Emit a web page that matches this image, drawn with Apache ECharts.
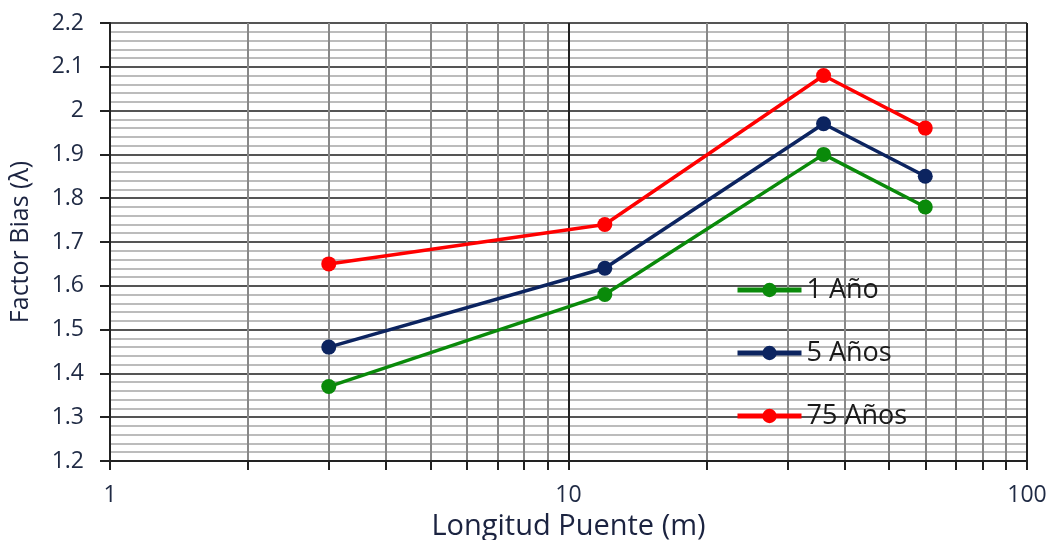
<!DOCTYPE html>
<html>
<head>
<meta charset="utf-8">
<script src="https://cdn.jsdelivr.net/npm/echarts@6/dist/echarts.min.js"></script>
<style>html,body{margin:0;padding:0;background:#fff}#c{width:1054px;height:540px}</style>
</head>
<body>
<div id="c"></div>
<script>
const longitudes = [3, 12, 36, 60];
const serie1 = [1.37, 1.58, 1.90, 1.78];
const serie5 = [1.46, 1.64, 1.97, 1.85];
const serie75 = [1.65, 1.74, 2.08, 1.96];
const seriesNames = ['1 Año', '5 Años', '75 Años'];
const xTicks = [1,2,3,4,5,6,7,8,9,10,20,30,40,50,60,70,80,90,100];

const FONT = '"Open Sans", Lato, sans-serif';
const chart = echarts.init(document.getElementById('c'));
function mk(name, vals, color) {
  return {
    name: name, type: 'line',
    data: longitudes.map((x, i) => [x, vals[i]]),
    symbol: 'circle', symbolSize: 15,
    lineStyle: {color: color, width: 3.5},
    itemStyle: {color: color},
    emphasis: {disabled: true}
  };
}
chart.setOption({
  animation: false,
  grid: {left: 110, right: 27, top: 23, bottom: 79, outerBoundsMode: 'none', containLabel: false},
  legend: {
    orient: 'vertical', left: 735, top: 275, padding: 0,
    itemWidth: 64, itemHeight: 18, itemGap: 33,
    lineStyle: {width: 5},
    textStyle: {fontFamily: FONT, fontSize: 27, lineHeight: 30, color: '#1a1a1a'},
    data: seriesNames
  },
  xAxis: {
    type: 'log', logBase: 10, min: 1, max: 100,
    name: 'Longitud Puente (m)', nameLocation: 'middle', nameGap: 46,
    nameTextStyle: {fontFamily: FONT, fontSize: 29, color: '#1b2340'},
    axisLine: {lineStyle: {color: '#222', width: 2}},
    axisTick: {show: true, length: 9, customValues: xTicks, lineStyle: {color: '#222', width: 2}},
    axisLabel: {fontFamily: FONT, fontSize: 23, color: '#1f2a44', margin: 23},
    splitLine: {show: true, lineStyle: {color: ['#222','#888','#888','#888','#888','#888','#888','#888','#888'], width: 2}},
    minorTick: {show: false}, minorSplitLine: {show: false}
  },
  yAxis: {
    type: 'value', min: 1.2, max: 2.2, interval: 0.1,
    name: 'Factor Bias (λ)', nameLocation: 'middle', nameGap: 77,
    nameTextStyle: {fontFamily: FONT, fontSize: 25, color: '#1b2340'},
    axisLine: {show: true, lineStyle: {color: '#222', width: 2}},
    axisTick: {show: true, length: 10, lineStyle: {color: '#222', width: 2}},
    axisLabel: {fontFamily: FONT, fontSize: 23, color: '#1f2a44', margin: 26,
      formatter: v => String(Math.round(v * 10) / 10)},
    splitLine: {show: true, lineStyle: {color: '#555', width: 2}},
    minorTick: {show: false, splitNumber: 5},
    minorSplitLine: {show: true, lineStyle: {color: '#bcbcbc', width: 2}}
  },
  series: [
    mk(seriesNames[0], serie1, '#0a8a0a'),
    mk(seriesNames[1], serie5, '#0c2460'),
    mk(seriesNames[2], serie75, '#ff0000')
  ]
});
</script>
</body>
</html>
